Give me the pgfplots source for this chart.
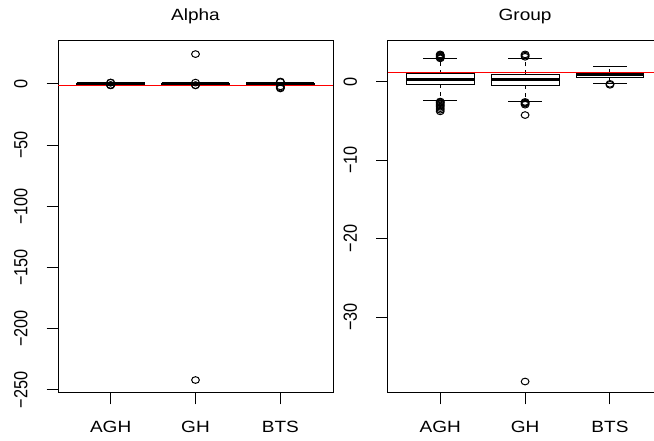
\documentclass[border=0pt]{standalone}
\usepackage{pgfplots}
\pgfplotsset{compat=1.18}
\usepackage{fontspec}
\setmainfont{Liberation Sans}
\newcommand{\hs}[1]{\scalebox{1.17}[1]{#1}}
\newcommand{\vs}[1]{\scalebox{1}[1.17]{#1}}
\pgfplotsset{
  rstyle/.style={
    scale only axis, width=206.25pt, height=264pt,
    xmin=0.38, xmax=3.62,
    xtick={1,2,3}, xticklabels={\hs{AGH},\hs{GH},\hs{BTS}},
    tick align=outside, xtick pos=left, ytick pos=left,
    major tick length=8.5pt,
    every tick/.style={black, line width=0.75pt},
    axis line style={line width=0.75pt},
    tick label style={font=\fontsize{12.2}{14}\selectfont},
    xticklabel style={anchor=base, inner sep=0pt},
    yticklabel style={rotate=90, anchor=base, inner sep=0pt},
    xticklabel shift=21.5pt,
    yticklabel shift=14.5pt,
    title style={font=\fontsize{12.2}{14}\selectfont, anchor=base, at={(0.5,1)}, yshift=9pt},
  },
  bxl/.style={black, line width=0.75pt, mark=none, line join=miter},
  med/.style={black, line width=2.25pt, mark=none},
  wsk/.style={black, line width=0.75pt, mark=none, dash pattern=on 3pt off 3pt},
  outl/.style={black, only marks, mark=o, mark size=2.5pt,
    mark options={solid, xscale=1.17, line width=0.75pt}},
}
\begin{document}
\begin{tikzpicture}
\useasboundingbox (0,0) rectangle (490.5pt,330.75pt);
\clip (0,0) rectangle (490.5pt,330.75pt);
% ---------------- Alpha ----------------
\begin{axis}[rstyle, at={(43.5pt,36pt)}, anchor=south west,
  ymin=-252.6, ymax=35.1,
  ytick={0,-50,-100,-150,-200,-250},
  yticklabels={\vs{0},\vs{−50},\vs{−100},\vs{−150},\vs{−200},\vs{−250}},
  title={\hs{Alpha}}]
% AGH: lw -0.9, lq -0.3, med 0, uq 0.3, uw 0.9
\addplot[wsk] coordinates {(1,0.3) (1,0.9)};
\addplot[wsk] coordinates {(1,-0.3) (1,-0.9)};
\addplot[bxl] coordinates {(0.8,0.9) (1.2,0.9)};
\addplot[bxl] coordinates {(0.8,-0.9) (1.2,-0.9)};
\addplot[bxl] coordinates {(0.6,-0.3) (1.4,-0.3) (1.4,0.3) (0.6,0.3) (0.6,-0.3)};
\addplot[med] coordinates {(0.6,0) (1.4,0)};
\addplot[outl] coordinates {(1,1.0) (1,1.2) (1,-1.0) (1,-1.2) (1,-0.95)};
% GH: lw -0.9, lq -0.3, med 0, uq 0.3, uw 0.9
\addplot[wsk] coordinates {(2,0.3) (2,0.9)};
\addplot[wsk] coordinates {(2,-0.3) (2,-0.9)};
\addplot[bxl] coordinates {(1.8,0.9) (2.2,0.9)};
\addplot[bxl] coordinates {(1.8,-0.9) (2.2,-0.9)};
\addplot[bxl] coordinates {(1.6,-0.3) (2.4,-0.3) (2.4,0.3) (1.6,0.3) (1.6,-0.3)};
\addplot[med] coordinates {(1.6,0) (2.4,0)};
\addplot[outl] coordinates {(2,24.4) (2,1.1) (2,-1.0) (2,-1.2) (2,-242)};
% BTS: lw -0.9, lq -0.2, med 0.2, uq 0.5, uw 1.2
\addplot[wsk] coordinates {(3,0.5) (3,1.2)};
\addplot[wsk] coordinates {(3,-0.2) (3,-0.9)};
\addplot[bxl] coordinates {(2.8,1.2) (3.2,1.2)};
\addplot[bxl] coordinates {(2.8,-0.9) (3.2,-0.9)};
\addplot[bxl] coordinates {(2.6,-0.2) (3.4,-0.2) (3.4,0.5) (2.6,0.5) (2.6,-0.2)};
\addplot[med] coordinates {(2.6,0.2) (3.4,0.2)};
\addplot[outl] coordinates {(3,2.0) (3,1.5) (3,-2.0) (3,-3.0) (3,-3.7)};
% reference line
\addplot[red, line width=0.75pt, mark=none] coordinates {(0.38,-1.6) (3.62,-1.6)};
\end{axis}
% ---------------- Group ----------------
\begin{axis}[rstyle, at={(290.7pt,36pt)}, anchor=south west,
  ymin=-39.66, ymax=5.16,
  ytick={0,-10,-20,-30},
  yticklabels={\vs{0},\vs{−10},\vs{−20},\vs{−30}},
  title={\hs{Group}}]
% AGH: lw -2.45, lq -0.36, med 0.28, uq 0.96, uw 2.87
\addplot[wsk] coordinates {(1,0.96) (1,2.87)};
\addplot[wsk] coordinates {(1,-0.36) (1,-2.45)};
\addplot[bxl] coordinates {(0.8,2.87) (1.2,2.87)};
\addplot[bxl] coordinates {(0.8,-2.45) (1.2,-2.45)};
\addplot[bxl] coordinates {(0.6,-0.36) (1.4,-0.36) (1.4,0.96) (0.6,0.96) (0.6,-0.36)};
\addplot[med] coordinates {(0.6,0.28) (1.4,0.28)};
\addplot[outl] coordinates {(1,2.95) (1,3.05) (1,3.15) (1,3.25) (1,3.35) (1,3.45)
  (1,-2.55) (1,-2.65) (1,-2.75) (1,-2.9) (1,-3.05) (1,-3.2) (1,-3.4) (1,-3.6) (1,-3.8)};
% GH: lw -2.57, lq -0.45, med 0.23, uq 0.92, uw 2.87
\addplot[wsk] coordinates {(2,0.92) (2,2.87)};
\addplot[wsk] coordinates {(2,-0.45) (2,-2.57)};
\addplot[bxl] coordinates {(1.8,2.87) (2.2,2.87)};
\addplot[bxl] coordinates {(1.8,-2.57) (2.2,-2.57)};
\addplot[bxl] coordinates {(1.6,-0.45) (2.4,-0.45) (2.4,0.92) (1.6,0.92) (1.6,-0.45)};
\addplot[med] coordinates {(1.6,0.23) (2.4,0.23)};
\addplot[outl] coordinates {(2,3.15) (2,3.3) (2,3.45) (2,-2.6) (2,-2.7) (2,-2.8) (2,-2.95)
  (2,-4.27) (2,-38.2)};
% BTS: lw -0.23, lq 0.53, med 0.83, uq 1.12, uw 1.97
\addplot[wsk] coordinates {(3,1.12) (3,1.97)};
\addplot[wsk] coordinates {(3,0.53) (3,-0.23)};
\addplot[bxl] coordinates {(2.8,1.97) (3.2,1.97)};
\addplot[bxl] coordinates {(2.8,-0.23) (3.2,-0.23)};
\addplot[bxl] coordinates {(2.6,0.53) (3.4,0.53) (3.4,1.12) (2.6,1.12) (2.6,0.53)};
\addplot[med] coordinates {(2.6,0.83) (3.4,0.83)};
\addplot[outl] coordinates {(3,-0.3) (3,-0.42)};
% reference line
\addplot[red, line width=0.75pt, mark=none] coordinates {(0.38,1.2) (3.62,1.2)};
\end{axis}
\end{tikzpicture}
\end{document}
